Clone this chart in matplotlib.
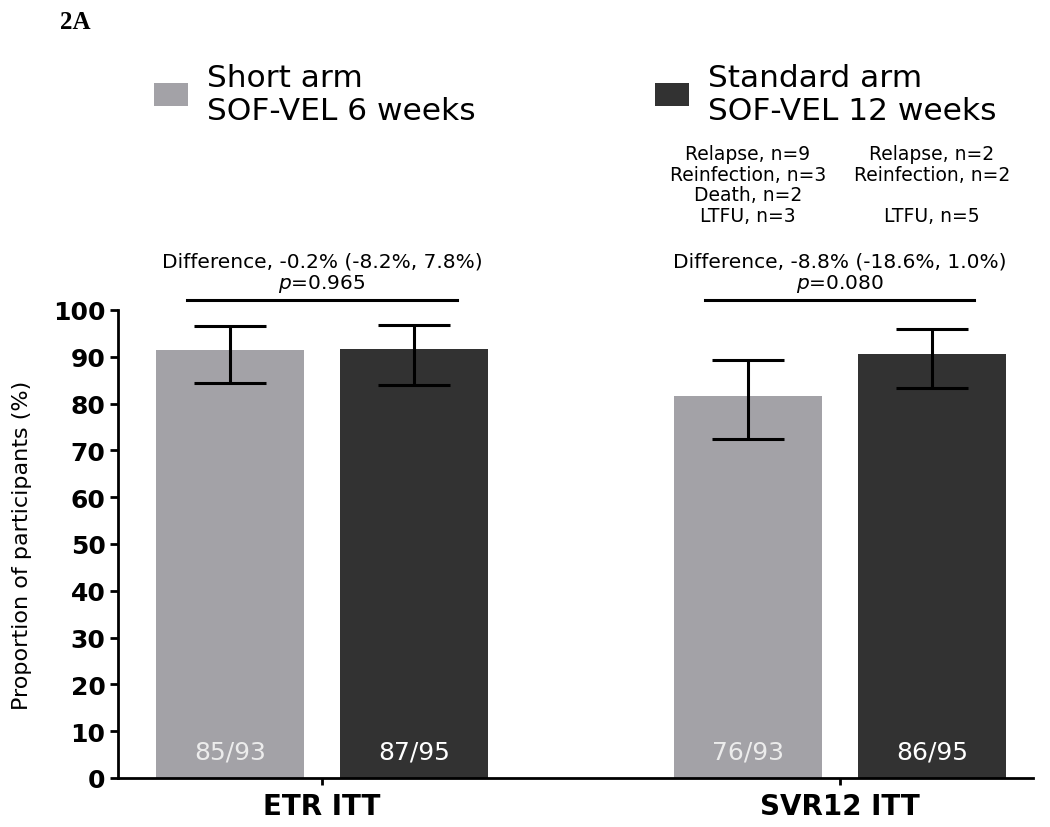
import matplotlib.pyplot as plt
import numpy as np

plt.rcParams['font.family'] = ['DejaVu Sans']

# data
groups = ["ETR ITT", "SVR12 ITT"]
arms = ["Short arm\nSOF-VEL 6 weeks", "Standard arm\nSOF-VEL 12 weeks"]
short_vals = [91.4, 81.7]
std_vals = [91.6, 90.5]
short_lo = [84.3, 72.5]
short_hi = [96.6, 89.3]
std_lo = [84.0, 83.3]
std_hi = [96.8, 96.0]
short_lbl = ["85/93", "76/93"]
std_lbl = ["87/95", "86/95"]
diff_txt = ["Difference, -0.2% (-8.2%, 7.8%)", "Difference, -8.8% (-18.6%, 1.0%)"]
p_txt = ["0.965", "0.080"]
reasons_short = "Relapse, n=9\nReinfection, n=3\nDeath, n=2\nLTFU, n=3"
reasons_std = "Relapse, n=2\nReinfection, n=2\n\nLTFU, n=5"

c_short = "#a3a2a7"
c_std = "#323232"

fig = plt.figure(figsize=(10.5, 8.28), dpi=100)
ax = fig.add_axes([0.1124, 0.0592, 0.8714, 0.5652])

x = np.arange(len(groups))
w = 0.286
off = 0.178

b1 = ax.bar(x - off, short_vals, w, color=c_short, label=arms[0])
b2 = ax.bar(x + off, std_vals, w, color=c_std, label=arms[1])

for xs, vals, lo, hi in [(x - off, short_vals, short_lo, short_hi),
                         (x + off, std_vals, std_lo, std_hi)]:
    err = [np.array(vals) - np.array(lo), np.array(hi) - np.array(vals)]
    ax.errorbar(xs, vals, yerr=err, fmt='none', ecolor='black',
                elinewidth=2.2, capsize=26, capthick=2.2)

for i in range(len(groups)):
    ax.text(x[i] - off, 5.6, short_lbl[i], ha='center', va='center',
            color='#ececec', fontsize=18)
    ax.text(x[i] + off, 5.6, std_lbl[i], ha='center', va='center',
            color='white', fontsize=18)

# brackets and difference text
for i in range(len(groups)):
    ax.plot([x[i] - 0.26, x[i] + 0.26], [102.1, 102.1], color='black',
            lw=2.2, clip_on=False)
    ax.text(x[i], 110.5, diff_txt[i], ha='center', va='center', fontsize=14.5)
    ax.text(x[i], 105.8, "$\\it{p}$=" + p_txt[i], ha='center', va='center',
            fontsize=14.5)

ax.text(1 - off, 126.8, reasons_short, ha='center', va='center',
        fontsize=13.5, linespacing=1.1)
ax.text(1 + off, 126.8, reasons_std, ha='center', va='center',
        fontsize=13.5, linespacing=1.1)

ax.set_ylim(0, 100)
ax.set_xlim(-0.394, 1.373)
ax.set_yticks(np.arange(0, 101, 10))
ax.set_xticks(x)
ax.set_xticklabels(groups, fontsize=20, fontweight='bold')
ax.tick_params(axis='y', labelsize=18, width=2, length=6, pad=3)
ax.tick_params(axis='x', width=2, length=5, pad=5)
for lbl in ax.get_yticklabels():
    lbl.set_fontweight('bold')
ax.set_ylabel("Proportion of participants (%)", fontsize=16, labelpad=15)
ax.spines['top'].set_visible(False)
ax.spines['right'].set_visible(False)
ax.spines['left'].set_linewidth(2)
ax.spines['bottom'].set_linewidth(2)

fig.legend(handles=[b1, b2], loc='upper left', bbox_to_anchor=(0.1195, 0.957),
           ncol=2, frameon=False, fontsize=22.5, handlelength=1.1,
           handleheight=0.74, columnspacing=5.75, handletextpad=0.6,
           labelspacing=0.2)

fig.text(0.057, 0.973, "2A", fontsize=18, fontweight='bold',
         family='Liberation Serif', va='center')

fig.savefig("out.png", dpi=100)
